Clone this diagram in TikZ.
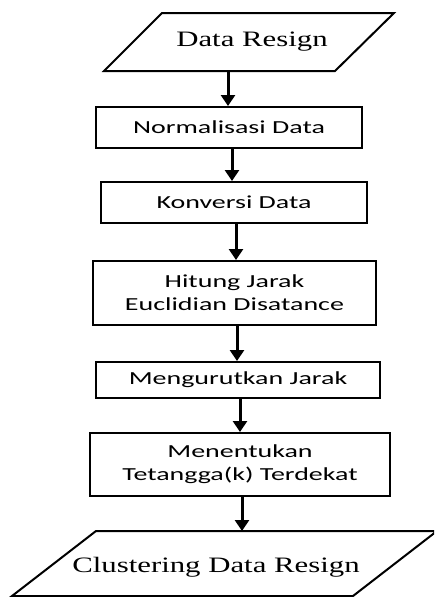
\documentclass[tikz,border=0pt]{standalone}
\usepackage{fontspec}
\usetikzlibrary{arrows.meta}
\newfontfamily\boxfont[FakeStretch=1.52]{Carlito}
\newfontfamily\parafont[FakeStretch=1.4]{Liberation Serif}
\begin{document}
\begin{tikzpicture}[x=1pt,y=-1pt,
  procbox/.style={draw, line width=2pt, rectangle, inner sep=0pt, align=center,
    font=\boxfont\fontsize{18.4}{23}\selectfont},
  paratext/.style={inner sep=0pt, font=\parafont\fontsize{22}{25}\selectfont},
  paraline/.style={draw, line width=2pt, line join=miter},
  arr/.style={line width=3pt, -{Triangle[width=14pt,length=11pt]}}]
\useasboundingbox (0,0) rectangle (434,597);
\clip (0,0) rectangle (434,597);
% top parallelogram
\path[paraline] (104,71) -- (162,13) -- (394,13) -- (335,71) -- cycle;
\node[paratext] (t0) at (252,42) {Data Resign};
\coordinate (c0) at (228,71);
% boxes
\node[procbox, minimum width=266pt, minimum height=41pt] (n1) at (229,127.5) {Normalisasi Data};
\node[procbox, minimum width=266pt, minimum height=41pt] (n2) at (234,202.5) {Konversi Data};
\node[procbox, minimum width=283pt, minimum height=64pt] (n3) at (234.5,293) {Hitung Jarak\\Euclidian Disatance};
\node[procbox, minimum width=284pt, minimum height=36pt] (n4) at (238,380) {Mengurutkan Jarak};
\node[procbox, minimum width=300pt, minimum height=63pt] (n5) at (240,464.5) {Menentukan\\Tetangga(k) Terdekat};
% bottom parallelogram
\path[paraline] (12,596) -- (96,531) -- (437,531) -- (353,596) -- cycle;
\node[paratext] (t6) at (216,567) {Clustering Data Resign};
\coordinate (c6) at (242,531);
% arrows
\draw[arr] (c0) -- (n1.north -| c0);
\draw[arr] ([xshift=3pt]n1.south) -- ([xshift=3pt]n1.south |- n2.north);
\draw[arr] ([xshift=2pt]n2.south) -- ([xshift=2pt]n2.south |- n3.north);
\draw[arr] ([xshift=2.5pt]n3.south) -- ([xshift=2.5pt]n3.south |- n4.north);
\draw[arr] ([xshift=2pt]n4.south) -- ([xshift=2pt]n4.south |- n5.north);
\draw[arr] ([xshift=2pt]n5.south) -- (c6);
\end{tikzpicture}
\end{document}
